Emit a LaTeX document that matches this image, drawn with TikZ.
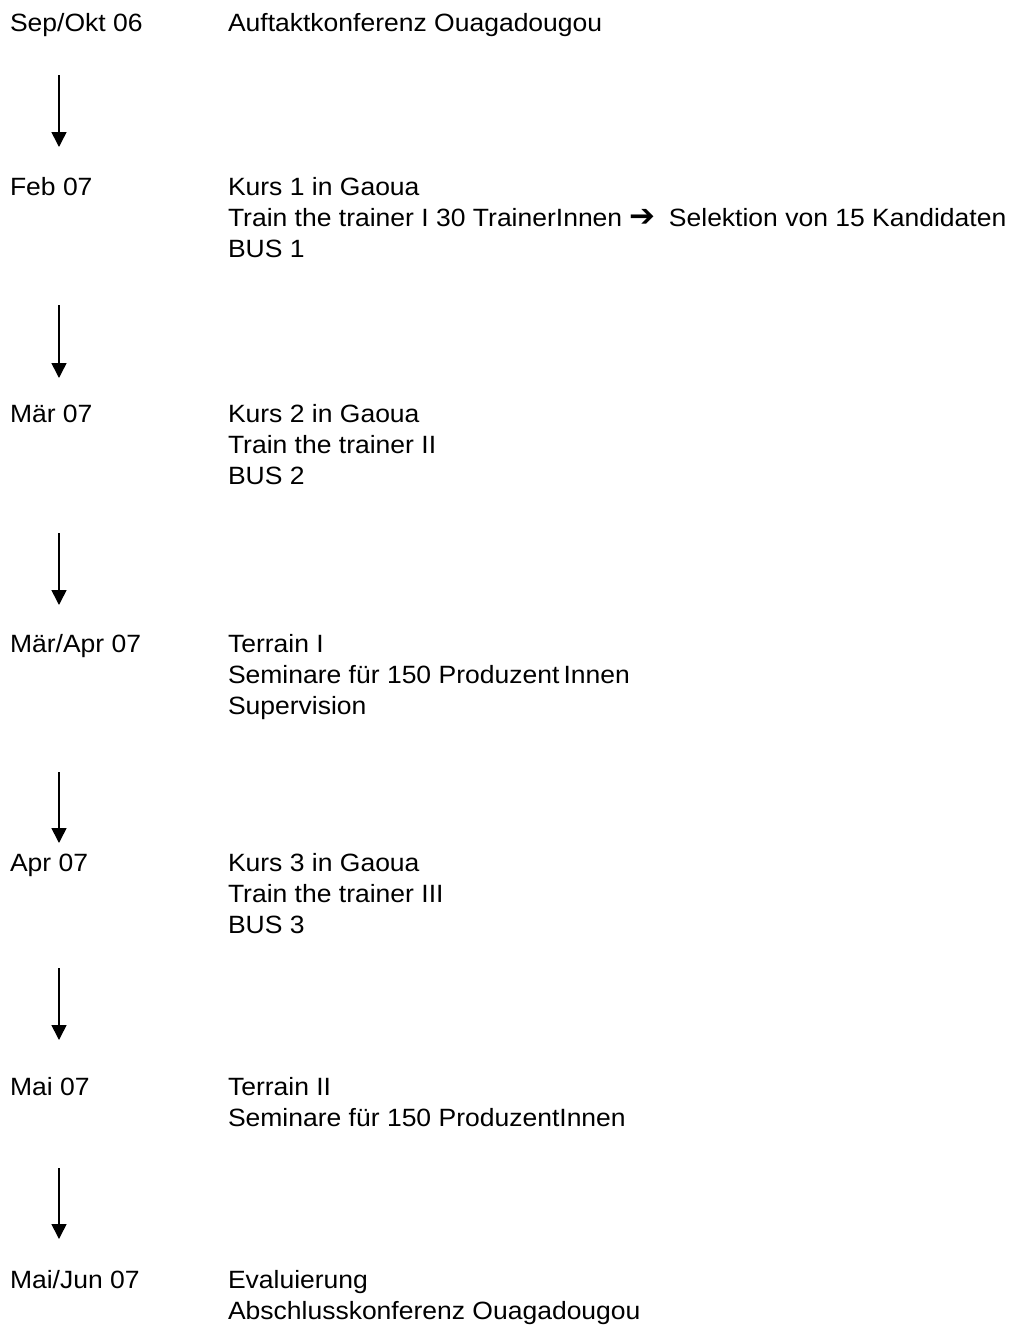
\documentclass[tikz,border=0pt]{standalone}
\usepackage{fontspec}
\setmainfont[FakeStretch=1.06]{Liberation Sans}
\newfontfamily\dejavu{DejaVu Sans}
\usetikzlibrary{arrows.meta}
\begin{document}
\begin{tikzpicture}[x=1pt,y=1pt,
  txt/.style={anchor=base west,inner sep=0pt,outer sep=0pt,font=\fontsize{25}{31}\selectfont},
  flow/.style={line width=1.6pt,-{Triangle[width=15pt,length=15pt]}}]
\useasboundingbox (0,0) rectangle (1010,-1330);
% dates
\node[txt] (d1) at (10,-32) {Sep/Okt 06};
\node[txt] (d2) at (10,-195) {Feb 07};
\node[txt] (d3) at (10,-422) {Mär 07};
\node[txt] (d4) at (10,-652) {Mär/Apr 07};
\node[txt] (d5) at (10,-871) {Apr 07};
\node[txt] (d6) at (10,-1095) {Mai 07};
\node[txt] (d7) at (10,-1288) {Mai/Jun 07};
% contents
\node[txt] (c1a) at (228,-32) {Auftaktkonferenz Ouagadougou};
\node[txt] (c2a) at (228,-195) {Kurs 1 in Gaoua};
\node[txt] (c2b) at (228,-226) {Train the trainer I 30 TrainerInnen {\dejavu\bfseries\fontsize{31}{34}\selectfont ➔}\hspace{6pt} Selektion von 15 Kandidaten};
\node[txt] (c2c) at (228,-257) {BUS 1};
\node[txt] (c3a) at (228,-422) {Kurs 2 in Gaoua};
\node[txt] (c3b) at (228,-453) {Train the trainer II};
\node[txt] (c3c) at (228,-484) {BUS 2};
\node[txt] (c4a) at (228,-652) {Terrain I};
\node[txt] (c4b) at (228,-683) {Seminare für 150 Produzent\,Innen};
\node[txt] (c4c) at (228,-714) {Supervision};
\node[txt] (c5a) at (228,-871) {Kurs 3 in Gaoua};
\node[txt] (c5b) at (228,-902) {Train the trainer III};
\node[txt] (c5c) at (228,-933) {BUS 3};
\node[txt] (c6a) at (228,-1095) {Terrain II};
\node[txt] (c6b) at (228,-1126) {Seminare für 150 ProduzentInnen};
\node[txt] (c7a) at (228,-1288) {Evaluierung};
\node[txt] (c7b) at (228,-1319) {Abschlusskonferenz Ouagadougou};
% arrow coordinates
\coordinate (a1s) at (59,-75);   \coordinate (a1e) at (59,-147);
\coordinate (a2s) at (59,-305);  \coordinate (a2e) at (59,-378);
\coordinate (a3s) at (59,-533);  \coordinate (a3e) at (59,-605);
\coordinate (a4s) at (59,-772);  \coordinate (a4e) at (59,-843);
\coordinate (a5s) at (59,-968);  \coordinate (a5e) at (59,-1040);
\coordinate (a6s) at (59,-1168); \coordinate (a6e) at (59,-1239);
\draw[flow] (a1s) -- (a1e);
\draw[flow] (a2s) -- (a2e);
\draw[flow] (a3s) -- (a3e);
\draw[flow] (a4s) -- (a4e);
\draw[flow] (a5s) -- (a5e);
\draw[flow] (a6s) -- (a6e);
\end{tikzpicture}
\end{document}
